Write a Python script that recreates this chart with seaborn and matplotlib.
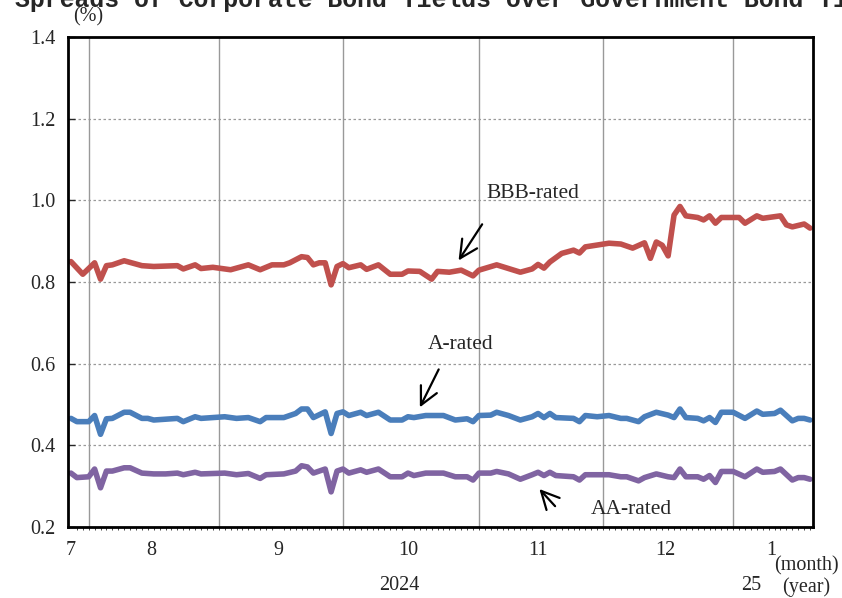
import numpy as np
import pandas as pd
import matplotlib
matplotlib.use("Agg")
import matplotlib.pyplot as plt
import seaborn as sns

# x positions are business-day counts from 2024-07-29 (weekdays only)
bbb_day = [0, 2, 4, 5, 6, 7, 9, 12, 14, 18, 19, 21, 22, 24, 27, 30, 32, 34, 36, 37,
           39, 40, 41, 42, 43, 44, 45, 46, 47, 49, 50, 52, 54, 56, 57, 59, 61, 62, 64, 66,
           68, 69, 72, 76, 78, 79, 80, 81, 83, 85, 86, 87, 91, 93, 95, 97, 98, 99, 100, 101,
           102, 103, 104, 106, 107, 108, 109, 110, 113, 114, 116, 117, 120, 121, 122, 124, 125]
bbb_val = [0.850, 0.819, 0.847, 0.807, 0.840, 0.842, 0.852, 0.840, 0.838, 0.840, 0.832, 0.842,
           0.833, 0.836, 0.830, 0.842, 0.830, 0.842, 0.842, 0.847, 0.862, 0.860, 0.842, 0.847,
           0.847, 0.793, 0.838, 0.845, 0.835, 0.842, 0.831, 0.842, 0.819, 0.819, 0.827, 0.826,
           0.807, 0.826, 0.824, 0.829, 0.815, 0.829, 0.842, 0.824, 0.832, 0.843, 0.834, 0.849,
           0.870, 0.878, 0.871, 0.886, 0.895, 0.893, 0.883, 0.896, 0.858, 0.898, 0.890, 0.864,
           0.964, 0.985, 0.962, 0.958, 0.952, 0.962, 0.944, 0.958, 0.958, 0.944, 0.962, 0.956,
           0.962, 0.940, 0.935, 0.942, 0.932]

a_day = [0, 1, 3, 4, 5, 6, 7, 9, 10, 12, 13, 14, 16, 18, 19, 21, 22, 26, 28, 30,
         32, 33, 36, 38, 39, 40, 41, 43, 44, 45, 46, 47, 49, 50, 52, 54, 56, 57, 58, 60,
         62, 63, 65, 67, 68, 69, 71, 72, 74, 76, 78, 79, 80, 81, 82, 85, 86, 87, 89, 91,
         93, 94, 96, 97, 99, 101, 102, 103, 104, 106, 107, 108, 109, 110, 112, 114, 116, 117, 119, 120,
         122, 123, 124, 125]
a_val = [0.466, 0.458, 0.458, 0.473, 0.427, 0.465, 0.466, 0.481, 0.481, 0.466, 0.466, 0.462,
         0.464, 0.466, 0.458, 0.470, 0.466, 0.470, 0.466, 0.468, 0.458, 0.468, 0.468, 0.478,
         0.489, 0.489, 0.468, 0.482, 0.429, 0.478, 0.482, 0.473, 0.481, 0.473, 0.481, 0.462,
         0.462, 0.470, 0.468, 0.473, 0.473, 0.473, 0.462, 0.465, 0.458, 0.473, 0.474, 0.481,
         0.473, 0.462, 0.470, 0.478, 0.468, 0.478, 0.468, 0.466, 0.458, 0.473, 0.470, 0.473,
         0.466, 0.466, 0.458, 0.470, 0.481, 0.474, 0.468, 0.489, 0.468, 0.466, 0.460, 0.468,
         0.456, 0.481, 0.481, 0.466, 0.484, 0.476, 0.478, 0.486, 0.460, 0.466, 0.466, 0.462]
aa_val = [0.332, 0.321, 0.323, 0.342, 0.296, 0.337, 0.337, 0.345, 0.345, 0.332, 0.331, 0.330,
          0.330, 0.332, 0.328, 0.334, 0.330, 0.332, 0.328, 0.331, 0.319, 0.328, 0.330, 0.337,
          0.350, 0.347, 0.332, 0.342, 0.286, 0.337, 0.342, 0.332, 0.340, 0.334, 0.342, 0.323,
          0.323, 0.332, 0.326, 0.332, 0.332, 0.332, 0.323, 0.323, 0.315, 0.332, 0.332, 0.336,
          0.330, 0.317, 0.328, 0.334, 0.326, 0.334, 0.326, 0.323, 0.315, 0.328, 0.328, 0.328,
          0.323, 0.323, 0.313, 0.321, 0.330, 0.323, 0.321, 0.342, 0.323, 0.323, 0.317, 0.326,
          0.309, 0.336, 0.336, 0.323, 0.342, 0.334, 0.336, 0.342, 0.315, 0.321, 0.321, 0.317]

month_start = [0, 3, 25, 46, 69, 90, 112]   # Jul 29, Aug 1, Sep 2, Oct 1, Nov 1, Dec 2, Jan 1
month_label = ["7", "8", "9", "10", "11", "12", "1"]
n_days = 126

df = pd.concat([
    pd.DataFrame({"day": bbb_day, "spread": bbb_val, "rating": "BBB-rated"}),
    pd.DataFrame({"day": a_day, "spread": a_val, "rating": "A-rated"}),
    pd.DataFrame({"day": a_day, "spread": aa_val, "rating": "AA-rated"}),
])

sns.set_style("white")
plt.rcParams["font.family"] = ["Liberation Serif", "DejaVu Serif"]

fig = plt.figure(figsize=(8.42, 5.98), dpi=100)
ax = fig.add_axes([68 / 842, 71 / 598, 745 / 842, 490 / 598])

palette = {"BBB-rated": "#C0504D", "A-rated": "#4A7EBB", "AA-rated": "#8064A2"}
sns.lineplot(data=df, x="day", y="spread", hue="rating", palette=palette,
             linewidth=4, legend=False, ax=ax, sort=True)
for ln in ax.lines:
    ln.set_solid_joinstyle("round")
    ln.set_solid_capstyle("round")

ax.set_xlim(-0.5, n_days - 0.5)
ax.set_ylim(0.2, 1.4)

# gridlines
for y in np.arange(0.4, 1.3, 0.2):
    ax.axhline(y, color="#999999", lw=0.9, ls=(0, (2, 2)), zorder=0)
for s in month_start[1:]:
    ax.axvline(s, color="#999999", lw=1, zorder=0)

for sp in ax.spines.values():
    sp.set_color("black")
    sp.set_linewidth(2)

ax.set_yticks(np.arange(0.2, 1.41, 0.2))
ax.set_yticklabels([f"{v:.1f}" for v in np.arange(0.2, 1.41, 0.2)], fontsize=14.5)
ax.tick_params(axis="y", direction="in", length=5, width=1, pad=9, left=True)

ends = month_start[1:] + [n_days]
mids = [(s + e - 1) / 2 if i > 0 else 0 for i, (s, e) in enumerate(zip(month_start, ends))]
ax.set_xticks(mids)
ax.set_xticklabels(month_label, fontsize=14.5)
ax.tick_params(axis="x", which="major", length=0, pad=10)
ax.set_xticks(np.arange(n_days), minor=True)
ax.tick_params(axis="x", which="minor", direction="out", length=2, width=0.6, bottom=True)
ax.set_xlabel("")
ax.set_ylabel("")

# annotations
arrow = dict(arrowstyle="->", lw=1.6, color="black", mutation_scale=32)
ax.annotate("", xy=(65.3, 0.847), xytext=(69.8, 0.947), arrowprops=arrow)
ax.text(70.2, 1.016, "BBB-rated", fontsize=15.5, va="center", ha="left")
ax.annotate("", xy=(58.8, 0.487), xytext=(62.4, 0.592), arrowprops=arrow)
ax.text(60.4, 0.648, "A-rated", fontsize=15.5, va="center", ha="left")
ax.annotate("", xy=(78.9, 0.298), xytext=(82.2, 0.246), arrowprops=arrow)
ax.text(87.9, 0.244, "AA-rated", fontsize=15.5, va="center", ha="left")

fig.text(15 / 842, 1 - 7 / 598, "Spreads of Corporate Bond Yields over Government Bond Yields",
         family="Liberation Mono", fontsize=17.9, weight="bold", va="baseline", ha="left")
fig.text(88 / 842, 1 - 17 / 598, "(%)", fontsize=14.5, ha="center", va="center")
fig.text(806 / 842, 1 - 566 / 598, "(month)", fontsize=14.5, ha="center", va="center")
fig.text(399 / 842, 1 - 585 / 598, "2024", fontsize=14.5, ha="center", va="center")
fig.text(751 / 842, 1 - 585 / 598, "25", fontsize=14.5, ha="center", va="center")
fig.text(806 / 842, 1 - 587 / 598, "(year)", fontsize=14.5, ha="center", va="center")

fig.savefig("out.png", dpi=100)
